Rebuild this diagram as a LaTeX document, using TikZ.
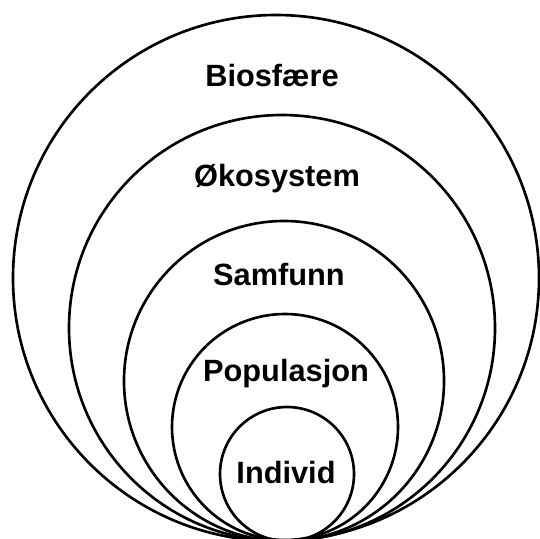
\documentclass[tikz,border=0pt]{standalone}
\usepackage{fontspec}
\setmainfont{Liberation Sans}

\begin{document}
\begin{tikzpicture}[x=0.02cm, y=-0.02cm,
    ring/.style={draw, line width=1.5pt},
    every node/.style={font=\bfseries\fontsize{17.5}{20}\selectfont, anchor=base, inner sep=0pt}]
    \useasboundingbox (0,0) rectangle (540,538);
    \draw[ring] (276,278) circle (263);
    \draw[ring] (282,328) circle (213);
    \draw[ring] (284,381) circle (160);
    \draw[ring] (285,427) circle (113);
    \draw[ring] (287,474) circle (67);
    \node (biosfaere) at (272,86) {Biosfære};
    \node (okosystem) at (277,186) {Økosystem};
    \node (samfunn) at (279,285) {Samfunn};
    \node (populasjon) at (286,381) {Populasjon};
    \node (individ) at (286,483) {Individ};
\end{tikzpicture}
\end{document}
